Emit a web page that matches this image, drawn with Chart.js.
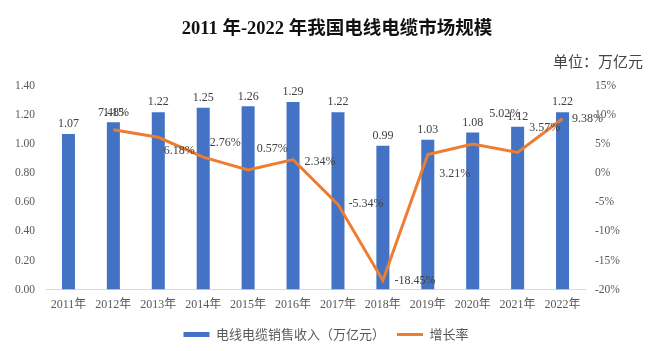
<!DOCTYPE html>
<html>
<head>
<meta charset="utf-8">
<script src="https://cdn.jsdelivr.net/npm/chart.js@4.4.0/dist/chart.umd.min.js"></script>
<style>
  body { margin: 0; background: #fff; }
  .wrap { position: relative; width: 652px; height: 351px; }
  .title {
    position: absolute; left: 0; top: 13px; width: 652px; padding-left: 22px; box-sizing: border-box;
    text-align: center; white-space: nowrap;
    font: bold 18.5px "Liberation Serif", "Noto Sans CJK SC", serif; color: #111;
  }
  .unit {
    position: absolute; right: 9px; top: 50px; white-space: nowrap;
    font: 15px "Liberation Serif", "Noto Sans CJK SC", serif; color: #444;
  }
  canvas { position: absolute; left: 0; top: 0; }
</style>
</head>
<body>
<div class="wrap">
  <canvas id="scChart" width="652" height="351"></canvas>
  <div class="title">2011 年-2022 年我国电线电缆市场规模</div>
  <div class="unit">单位：万亿元</div>
</div>
<script>
const years = ['2011年', '2012年', '2013年', '2014年', '2015年', '2016年', '2017年', '2018年', '2019年', '2020年', '2021年', '2022年'];
const revenue = [1.07, 1.15, 1.22, 1.25, 1.26, 1.29, 1.22, 0.99, 1.03, 1.08, 1.12, 1.22];
const growth = [null, 7.48, 6.18, 2.76, 0.57, 2.34, -5.34, -18.45, 3.21, 5.02, 3.57, 9.38];
const revenueAxis = { min: 0, max: 1.4, step: 0.2 };
const growthAxis = { min: -20, max: 15, step: 5 };

const serif = '"Liberation Serif", "Noto Sans CJK SC", serif';

// where each growth label sits relative to its point (dx, dy)
const growthLabelPos = [null, [0, -17], [21, 14], [22, -14], [24, -21], [27, 2], [28, 0], [32, 0], [27, 19], [32, -30], [27, -25], [25, 0]];

const valueLabels = {
    id: 'valueLabels',
    afterDatasetsDraw(chart) {
        const ctx = chart.ctx;
        ctx.save();
        ctx.font = '12px ' + serif;
        ctx.fillStyle = '#404040';
        ctx.textAlign = 'center';

        chart.getDatasetMeta(0).data.forEach((bar, i) => {
            ctx.textBaseline = 'bottom';
            ctx.fillText(revenue[i].toFixed(2), bar.x, bar.y - 4);
        });

        chart.getDatasetMeta(1).data.forEach((pt, i) => {
            if (growth[i] === null) return;
            const off = growthLabelPos[i];
            ctx.textBaseline = 'middle';
            ctx.fillText(growth[i].toFixed(2) + '%', pt.x + off[0], pt.y + off[1]);
        });
        ctx.restore();
    }
};

new Chart(document.getElementById('scChart').getContext('2d'), {
    type: 'bar',
    data: {
        labels: years,
        datasets: [
            {
                label: '电线电缆销售收入（万亿元）',
                data: revenue,
                backgroundColor: '#4472C4',
                borderWidth: 0,
                barPercentage: 0.29,
                categoryPercentage: 1,
                yAxisID: 'y',
                order: 2
            },
            {
                type: 'line',
                label: '增长率',
                data: growth,
                borderColor: '#ED7D31',
                backgroundColor: '#ED7D31',
                borderWidth: 3,
                pointRadius: 0,
                tension: 0,
                yAxisID: 'y1',
                order: 1
            }
        ]
    },
    options: {
        responsive: false,
        animation: false,
        layout: {
            padding: { top: 86, left: 0, right: 0, bottom: 0 }
        },
        plugins: {
            legend: {
                position: 'bottom',
                labels: {
                    usePointStyle: true,
                    pointStyleWidth: 26,
                    boxHeight: 5,
                    padding: 12,
                    color: '#595959',
                    font: { size: 13, family: '"Noto Sans CJK SC", sans-serif' },
                    sort: (a, b) => a.datasetIndex - b.datasetIndex,
                    generateLabels(chart) {
                        return chart.data.datasets.map((ds, i) => ({
                            text: ds.label,
                            datasetIndex: i,
                            fillStyle: ds.backgroundColor,
                            strokeStyle: i === 0 ? 'transparent' : ds.borderColor,
                            lineWidth: i === 0 ? 0 : 3,
                            pointStyle: i === 0 ? 'rect' : 'line',
                            fontColor: '#595959',
                            hidden: false
                        }));
                    }
                }
            },
            tooltip: { enabled: false }
        },
        scales: {
            x: {
                grid: { display: false, drawTicks: false },
                border: { color: '#d9d9d9', width: 1 },
                afterFit(scale) { scale.height -= 4; },
                ticks: {
                    padding: 8,
                    color: '#595959',
                    font: { size: 12, family: serif },
                    maxRotation: 0
                }
            },
            y: {
                position: 'left',
                min: revenueAxis.min,
                max: revenueAxis.max,
                grid: { display: false, drawTicks: false },
                border: { display: false },
                afterFit(scale) { scale.width = 46; },
                ticks: {
                    stepSize: revenueAxis.step,
                    padding: 11,
                    color: '#595959',
                    font: { size: 11.5, family: serif },
                    callback: v => v.toFixed(2)
                }
            },
            y1: {
                position: 'right',
                min: growthAxis.min,
                max: growthAxis.max,
                grid: { display: false, drawTicks: false },
                border: { display: false },
                afterFit(scale) { scale.width = 67; },
                ticks: {
                    stepSize: growthAxis.step,
                    padding: 10,
                    color: '#595959',
                    font: { size: 11.5, family: serif },
                    callback: v => v + '%'
                }
            }
        }
    },
    plugins: [valueLabels]
});
</script>
</body>
</html>
